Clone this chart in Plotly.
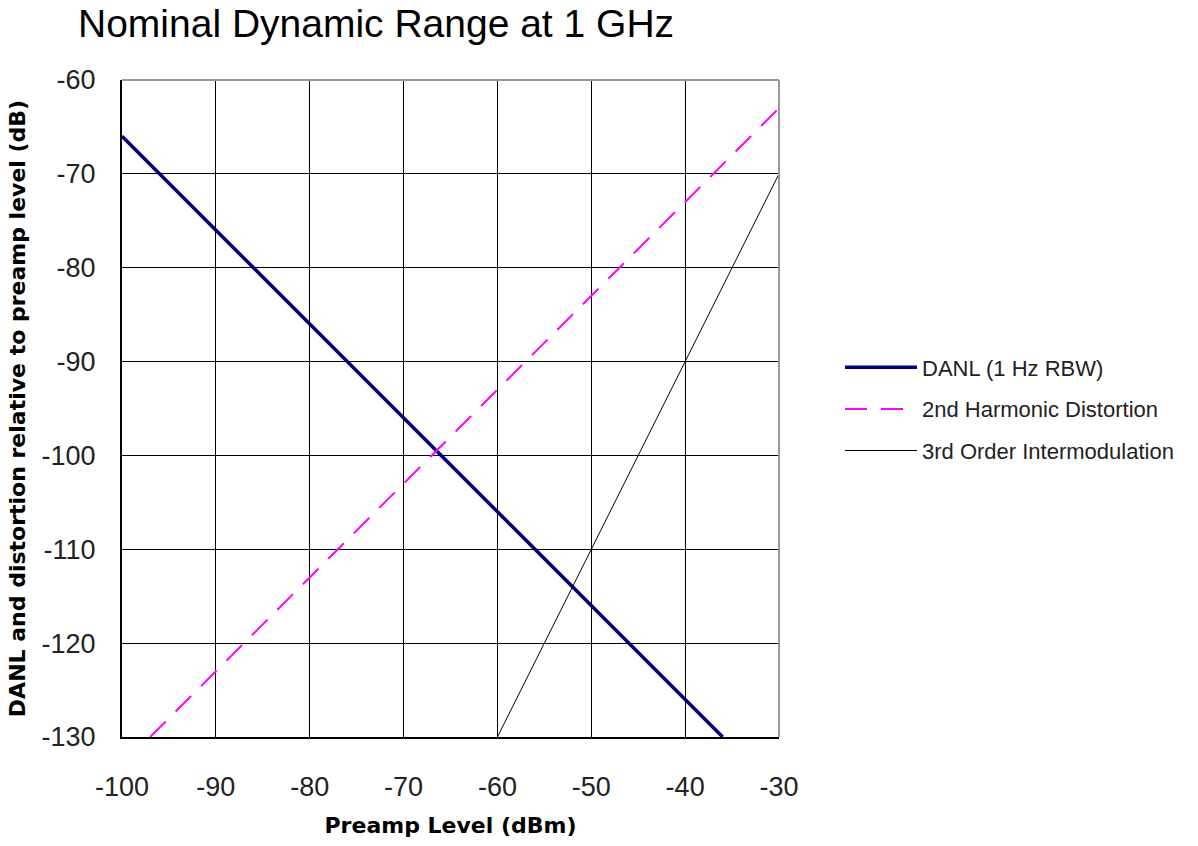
import plotly.graph_objects as go

# Preamp level (dBm) end points of each line
danl_x = [-100, -36]
danl_y = [-66, -130]
harm2_x = [-97, -30]
harm2_y = [-130, -63]
im3_x = [-60, -30]
im3_y = [-130, -70]

x_ticks = [-100, -90, -80, -70, -60, -50, -40, -30]
y_ticks = [-60, -70, -80, -90, -100, -110, -120, -130]
x_tick_text = [str(v) for v in x_ticks]
y_tick_text = [str(v) for v in y_ticks]

FONT = "Liberation Sans, Arial, sans-serif"
BOLD_FONT = "DejaVu Sans, Liberation Sans, sans-serif"

fig = go.Figure()
fig.add_trace(go.Scatter(x=danl_x, y=danl_y, mode="lines", name="DANL (1 Hz RBW)",
                         legendgroup="a",
                         line=dict(color="#000080", width=3.5)))
fig.add_trace(go.Scatter(x=harm2_x, y=harm2_y, mode="lines", name="2nd Harmonic Distortion",
                         legendgroup="b",
                         line=dict(color="#FF00FF", width=2, dash="22px,14px")))
fig.add_trace(go.Scatter(x=im3_x, y=im3_y, mode="lines", name="3rd Order Intermodulation",
                         legendgroup="c",
                         line=dict(color="#000000", width=1)))

# plot frame: black on left/bottom, grey on top/right
fig.add_shape(type="line", xref="paper", yref="paper", x0=0, x1=1, y0=1, y1=1,
              line=dict(color="#999999", width=2))
fig.add_shape(type="line", xref="paper", yref="paper", x0=1, x1=1, y0=0, y1=1,
              line=dict(color="#999999", width=2))

fig.update_layout(
    width=1198, height=846,
    margin=dict(l=122, r=419, t=80, b=105),
    paper_bgcolor="white", plot_bgcolor="white",
    font=dict(family=FONT, color="black"),
    title=dict(text="Nominal Dynamic Range at 1 GHz", x=78 / 1198, xanchor="left",
               y=1 - 23 / 846, yanchor="middle", font=dict(size=39, color="black")),
    xaxis=dict(range=[-100, -30], tickvals=x_ticks, ticktext=x_tick_text,
               showgrid=True, gridcolor="black",
               gridwidth=1, zeroline=False, showline=True, linecolor="black", linewidth=2,
               ticks="", ticklabelstandoff=25, tickfont=dict(size=27, color="#222222"),
               title=dict(text="<b>Preamp Level (dBm)</b>",
                          font=dict(family=BOLD_FONT, size=22), standoff=16)),
    yaxis=dict(range=[-130, -60], tickvals=y_ticks, ticktext=y_tick_text,
               showgrid=True, gridcolor="black",
               gridwidth=1, zeroline=False, showline=True, linecolor="black", linewidth=2,
               ticks="", ticklabelstandoff=19, tickfont=dict(size=27, color="#222222"),
               title=dict(text="<b>DANL and distortion relative to preamp level (dB)</b>",
                          font=dict(family=BOLD_FONT, size=22), standoff=10)),
    legend=dict(x=(840 - 122) / 657, xanchor="left", y=(741 - 411) / 661, yanchor="middle",
                font=dict(size=22, color="#222222"), itemwidth=72, tracegroupgap=10,
                traceorder="grouped", bgcolor="rgba(0,0,0,0)"),
    showlegend=True,
)

fig.write_html("out.html")
